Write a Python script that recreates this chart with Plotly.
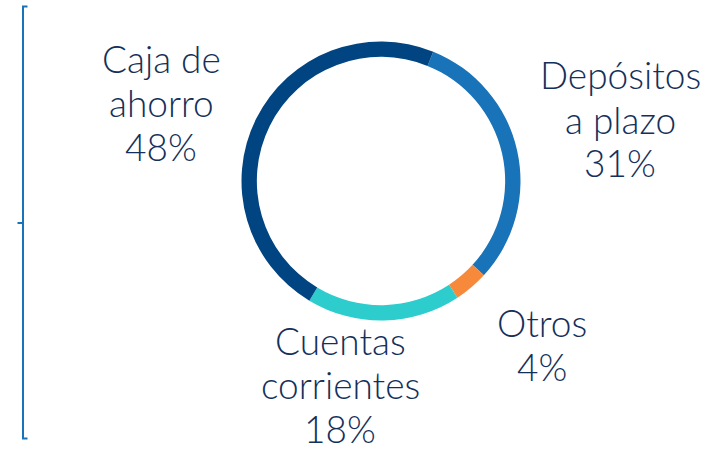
import plotly.graph_objects as go

# Distribution of deposits by product
categories = ["Depósitos a plazo", "Otros", "Cuentas corrientes", "Caja de ahorro"]
label_lines = [["Depósitos", "a plazo"], ["Otros"], ["Cuentas", "corrientes"], ["Caja de", "ahorro"]]
values = [31, 4, 18, 48]
colors = ["#1973B8", "#F7893B", "#2DCCCD", "#004481"]

W, H = 717, 451
TEXT_COLOR = "#14305a"
FONT = dict(family="Lato, 'Open Sans', sans-serif", size=37, color=TEXT_COLOR, weight=300)

# label layout: centre x and first baseline y (pixels from top-left), line step
label_anchor = [(620, 90), (542, 337), (340, 355), (161, 73)]
LINE_STEP = 44
BASELINE_OFFSET = 15


def px(x, y):
    return x / W, 1 - y / H


# ring geometry (pixels)
cx, cy, r = 381, 181, 139.5

fig = go.Figure(
    go.Pie(
        labels=categories,
        values=values,
        marker=dict(colors=colors, line=dict(width=0)),
        hole=0.89,
        sort=False,
        direction="clockwise",
        rotation=22,
        textinfo="none",
        hoverinfo="label+percent",
        showlegend=False,
        domain=dict(x=[(cx - r) / W, (cx + r) / W], y=[1 - (cy + r) / H, 1 - (cy - r) / H]),
    )
)

annotations = []
for lines, val, (lx, ly) in zip(label_lines, values, label_anchor):
    for i, txt in enumerate(lines + [f"{val}%"]):
        ax, ay = px(lx, ly + i * LINE_STEP - BASELINE_OFFSET)
        annotations.append(
            dict(
                x=ax, y=ay, xref="paper", yref="paper",
                text=txt, showarrow=False,
                xanchor="center", yanchor="middle",
                font=FONT,
            )
        )

# bracket on the left edge
bx, top, mid, bot = 23, 6.5, 223, 438.5
path = (
    f"M {(bx + 4.5) / W},{1 - top / H} L {bx / W},{1 - top / H} "
    f"L {bx / W},{1 - bot / H} L {(bx + 4.5) / W},{1 - bot / H} "
    f"M {(bx - 5.5) / W},{1 - mid / H} L {bx / W},{1 - mid / H}"
)
shapes = [dict(type="path", xref="paper", yref="paper", path=path,
               line=dict(color="#1973B8", width=2))]

fig.update_layout(
    width=W, height=H,
    margin=dict(l=0, r=0, t=0, b=0),
    paper_bgcolor="white", plot_bgcolor="white",
    annotations=annotations,
    shapes=shapes,
)

fig.write_html("out.html")
